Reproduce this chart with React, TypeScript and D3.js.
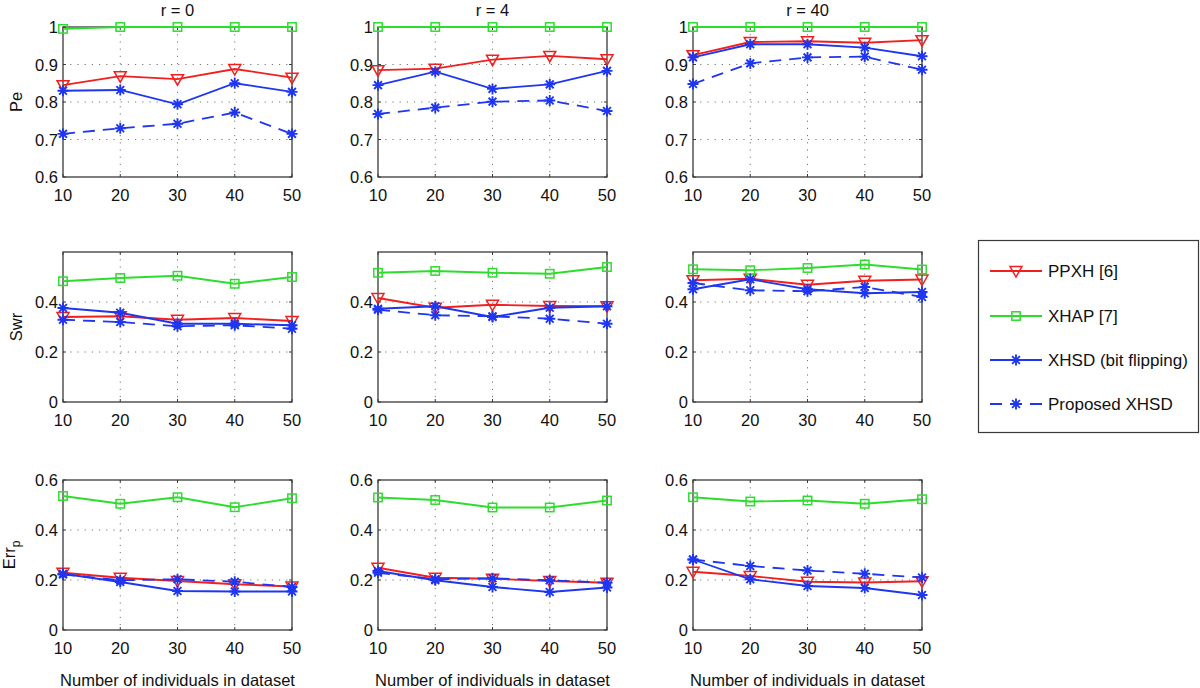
import React from "react";
import * as d3 from "d3";

const xValues = [10, 20, 30, 40, 50];
const rTitles = ["r = 0", "r = 4", "r = 40"];
const seriesNames = ["PPXH [6]", "XHAP [7]", "XHSD (bit flipping)", "Proposed XHSD"];
const xLabel = "Number of individuals in dataset";

// each array: [r = 0, r = 4, r = 40], values at x = 10..50
const pePPXH = [[0.845, 0.869, 0.861, 0.888, 0.865], [0.885, 0.889, 0.913, 0.923, 0.914], [0.925, 0.96, 0.962, 0.958, 0.965]];
const peXHAP = [[0.995, 1, 1, 1, 1], [1, 1, 1, 1, 1], [1, 1, 1, 1, 1]];
const peXHSD = [[0.83, 0.832, 0.794, 0.85, 0.827], [0.845, 0.881, 0.835, 0.847, 0.883], [0.919, 0.954, 0.954, 0.945, 0.922]];
const peProposed = [[0.715, 0.73, 0.742, 0.772, 0.715], [0.768, 0.785, 0.801, 0.804, 0.776], [0.848, 0.903, 0.919, 0.921, 0.886]];

const swrPPXH = [[0.34, 0.343, 0.329, 0.336, 0.324], [0.416, 0.377, 0.389, 0.384, 0.383], [0.487, 0.493, 0.469, 0.485, 0.49]];
const swrXHAP = [[0.483, 0.496, 0.505, 0.473, 0.5], [0.517, 0.524, 0.517, 0.513, 0.54], [0.531, 0.527, 0.536, 0.55, 0.53]];
const swrXHSD = [[0.376, 0.357, 0.313, 0.313, 0.307], [0.373, 0.383, 0.34, 0.377, 0.383], [0.451, 0.491, 0.451, 0.435, 0.44]];
const swrProposed = [[0.329, 0.32, 0.303, 0.307, 0.293], [0.369, 0.347, 0.343, 0.333, 0.313], [0.476, 0.447, 0.443, 0.46, 0.42]];

const errPPXH = [[0.229, 0.209, 0.196, 0.183, 0.174], [0.249, 0.209, 0.205, 0.196, 0.189], [0.233, 0.216, 0.193, 0.19, 0.195]];
const errXHAP = [[0.536, 0.505, 0.531, 0.491, 0.527], [0.53, 0.52, 0.49, 0.49, 0.518], [0.531, 0.514, 0.518, 0.505, 0.523]];
const errXHSD = [[0.225, 0.192, 0.156, 0.154, 0.154], [0.236, 0.199, 0.172, 0.152, 0.17], [0.282, 0.203, 0.176, 0.168, 0.14]];
const errProposed = [[0.222, 0.199, 0.203, 0.193, 0.172], [0.229, 0.203, 0.207, 0.199, 0.189], [0.282, 0.256, 0.238, 0.225, 0.21]];

const peTicks = [0.6, 0.7, 0.8, 0.9, 1];
const swrTicks = [0, 0.2, 0.4];
const errTicks = [0, 0.2, 0.4, 0.6];

const FONT = "'Liberation Sans', Arial, Helvetica, sans-serif";
const COLORS = ["#f21f1f", "#2ddd2d", "#1f36f0", "#1f36f0"];
const DASHED = [false, false, false, true];
const MARKERS = ["tri", "sq", "star", "star"];

const colX = [63, 378, 693];
const panelW = 229;
const panelH = 150;

const rows = [
  { label: "Pe", sub: "", top: 27, domain: [0.6, 1], ticks: peTicks, data: [pePPXH, peXHAP, peXHSD, peProposed], labelX: 22 },
  { label: "Swr", sub: "", top: 252, domain: [0, 0.6], ticks: swrTicks, data: [swrPPXH, swrXHAP, swrXHSD, swrProposed], labelX: 22 },
  { label: "Err", sub: "p", top: 480, domain: [0, 0.6], ticks: errTicks, data: [errPPXH, errXHAP, errXHSD, errProposed], labelX: 15 },
];

function Marker({ type, x, y, color }: { type: string; x: number; y: number; color: string }) {
  if (type === "tri") {
    return <path d={`M${x - 6},${y - 4.5} L${x + 6},${y - 4.5} L${x},${y + 6} Z`} fill="none" stroke={color} strokeWidth={1.5} />;
  }
  if (type === "sq") {
    return <rect x={x - 4.2} y={y - 4.2} width={8.4} height={8.4} fill="none" stroke={color} strokeWidth={1.5} />;
  }
  const r = 5.5;
  const d = 3.9;
  return (
    <path
      d={`M${x - r},${y} L${x + r},${y} M${x},${y - r} L${x},${y + r} M${x - d},${y - d} L${x + d},${y + d} M${x - d},${y + d} L${x + d},${y - d}`}
      stroke={color}
      strokeWidth={1.9}
      fill="none"
    />
  );
}

function fmt(v: number) {
  return String(+v.toFixed(2));
}

function Panel({ row, col }: { row: any; col: number }) {
  const left = colX[col];
  const top = row.top;
  const x = d3.scaleLinear().domain([10, 50]).range([left, left + panelW]);
  const y = d3.scaleLinear().domain(row.domain).range([top + panelH, top]);
  const line = d3
    .line<number>()
    .x((_, i) => x(xValues[i]))
    .y((v) => y(v));
  const yGrid = row.ticks.filter((t: number) => t > row.domain[0] + 1e-9 && t < row.domain[1] - 1e-9);
  const xGrid = xValues.slice(1, -1);
  const axisColor = "#3a3a3a";
  return (
    <g>
      {xGrid.map((v) => (
        <line key={"gx" + v} x1={x(v)} x2={x(v)} y1={top} y2={top + panelH} stroke="#777" strokeWidth={1} strokeDasharray="1.2 6" />
      ))}
      {yGrid.map((v: number) => (
        <line key={"gy" + v} x1={left} x2={left + panelW} y1={y(v)} y2={y(v)} stroke="#777" strokeWidth={1} strokeDasharray="1.2 6" />
      ))}
      {xValues.map((v) => (
        <g key={"tx" + v}>
          <line x1={x(v)} x2={x(v)} y1={top + panelH} y2={top + panelH - 3} stroke={axisColor} />
          <line x1={x(v)} x2={x(v)} y1={top} y2={top + 3} stroke={axisColor} />
          <text x={x(v)} y={top + panelH + 24} textAnchor="middle" fontSize={16.5} fontFamily={FONT} fill="#111">
            {v}
          </text>
        </g>
      ))}
      {row.ticks.map((v: number) => (
        <g key={"ty" + v}>
          <line x1={left} x2={left + 3} y1={y(v)} y2={y(v)} stroke={axisColor} />
          <line x1={left + panelW} x2={left + panelW - 3} y1={y(v)} y2={y(v)} stroke={axisColor} />
          <text x={left - 5} y={y(v) + 6} textAnchor="end" fontSize={16.5} fontFamily={FONT} fill="#111">
            {fmt(v)}
          </text>
        </g>
      ))}
      <rect x={left} y={top} width={panelW} height={panelH} fill="none" stroke={axisColor} strokeWidth={1.3} />
      {row.data.map((series: number[][], si: number) => {
        const vals = series[col];
        return (
          <g key={"s" + si}>
            <path
              d={line(vals) || ""}
              fill="none"
              stroke={COLORS[si]}
              strokeWidth={1.8}
              strokeDasharray={DASHED[si] ? "12 8" : undefined}
            />
            {vals.map((v, i) => (
              <Marker key={i} type={MARKERS[si]} x={x(xValues[i])} y={y(v)} color={COLORS[si]} />
            ))}
          </g>
        );
      })}
    </g>
  );
}

export default function App() {
  const legendX = 978.5;
  const legendY = 240.5;
  const legendW = 220;
  const legendH = 192;
  const legendRows = [271, 316, 360, 404];
  return (
    <svg
      width={1200}
      height={688}
      viewBox="0 0 1200 688"
      style={{ position: "absolute", left: 0, top: 0, background: "#fff" }}
    >
      <rect x={0} y={0} width={1200} height={688} fill="#fff" />
      {rTitles.map((t, c) => (
        <text key={t} x={colX[c] + panelW / 2} y={16} textAnchor="middle" fontSize={16.5} fontFamily={FONT} fill="#111">
          {t}
        </text>
      ))}
      {rows.map((row, ri) => (
        <g key={ri}>
          {colX.map((_, c) => (
            <Panel key={c} row={row} col={c} />
          ))}
          <text
            transform={`translate(${row.labelX},${row.top + panelH / 2}) rotate(-90)`}
            textAnchor="middle"
            fontSize={16.5}
            fontFamily={FONT}
            fill="#111"
          >
            {row.label}
            {row.sub ? (
              <tspan fontSize={12} dy={5}>
                {row.sub}
              </tspan>
            ) : null}
          </text>
        </g>
      ))}
      {colX.map((l, c) => (
        <text key={"xl" + c} x={l + panelW / 2} y={686} textAnchor="middle" fontSize={16.5} fontFamily={FONT} fill="#111">
          {xLabel}
        </text>
      ))}
      <rect x={legendX} y={legendY} width={legendW} height={legendH} fill="#fff" stroke="#3a3a3a" strokeWidth={1.2} />
      {seriesNames.map((name, i) => {
        const yy = legendRows[i];
        return (
          <g key={name}>
            <line
              x1={990}
              x2={1042}
              y1={yy}
              y2={yy}
              stroke={COLORS[i]}
              strokeWidth={1.8}
              strokeDasharray={DASHED[i] ? "12 8" : undefined}
            />
            <Marker type={MARKERS[i]} x={1016} y={yy} color={COLORS[i]} />
            <text x={1048} y={yy + 6} fontSize={17} fontFamily={FONT} fill="#111">
              {name}
            </text>
          </g>
        );
      })}
    </svg>
  );
}
